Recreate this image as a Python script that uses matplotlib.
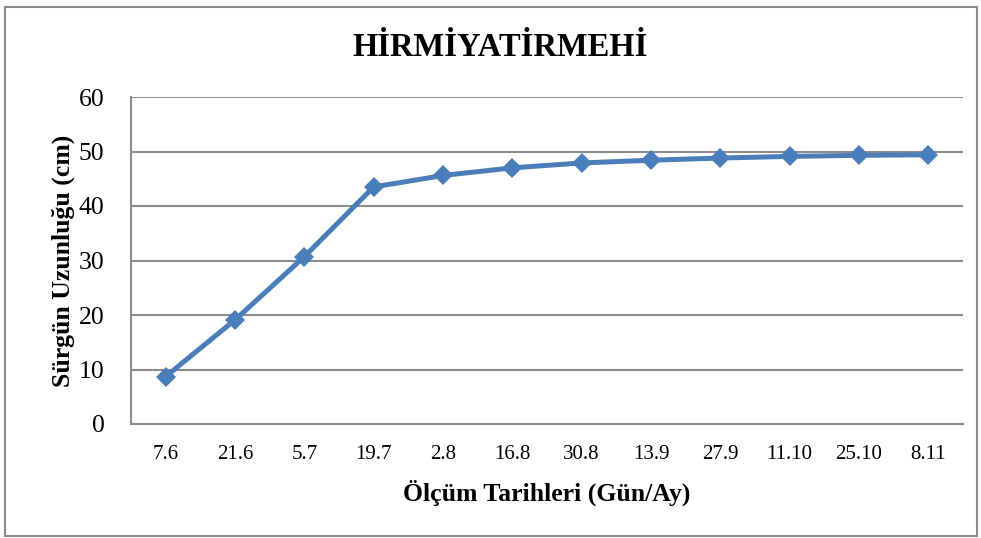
import matplotlib
matplotlib.use("Agg")
import matplotlib.pyplot as plt
from matplotlib.patches import Rectangle

dates = ["7.6", "21.6", "5.7", "19.7", "2.8", "16.8", "30.8", "13.9", "27.9", "11.10", "25.10", "8.11"]
lengths = [8.7, 19.1, 30.7, 43.5, 45.6, 47.0, 47.9, 48.4, 48.8, 49.1, 49.3, 49.4]
yticks = [0, 10, 20, 30, 40, 50, 60]

plt.rcParams['font.family'] = ['Liberation Serif', 'DejaVu Serif']

W, H = 981, 538
fig = plt.figure(figsize=(W / 100, H / 100), dpi=100)
ax = fig.add_axes([131 / W, 1 - 424 / H, (963 - 131) / W, (424 - 97) / H])

x = list(range(len(dates)))
ax.plot(x, lengths, color='#4A7EBB', lw=3.6, marker='D', ms=10, mew=0, zorder=3)

ax.set_xlim(-0.5, len(dates) - 0.5)
ax.set_ylim(0, 60)
ax.set_yticks(yticks)
ax.set_xticks(x)
ax.set_xticklabels(dates)
ax.tick_params(axis='both', length=0)
ax.tick_params(axis='x', labelsize=15, pad=15)
ax.tick_params(axis='y', labelsize=18.5, pad=19)
ax.yaxis.grid(True, color='#8C8C8C', lw=1.5)
ax.set_axisbelow(True)
for s in ['top', 'right']:
    ax.spines[s].set_visible(False)
for s in ['left', 'bottom']:
    ax.spines[s].set_color('#8C8C8C')
    ax.spines[s].set_linewidth(1.5)

ax.set_xlabel('Ölçüm Tarihleri (Gün/Ay)', fontsize=18.5, fontweight='bold', labelpad=11)
ax.set_ylabel('Sürgün Uzunluğu (cm)', fontsize=18.5, fontweight='bold', labelpad=3)
fig.text(500 / W, 1 - 48 / H, 'HİRMİYATİRMEHİ', fontsize=23.5, fontweight='bold',
         ha='center', va='center')

fig.patches.append(Rectangle((5 / W, 2 / H), (977 - 5) / W, (531 - 2) / H,
                             transform=fig.transFigure, fill=False,
                             edgecolor='#8C8C8C', lw=1.5))

fig.savefig('out.png', dpi=100)
